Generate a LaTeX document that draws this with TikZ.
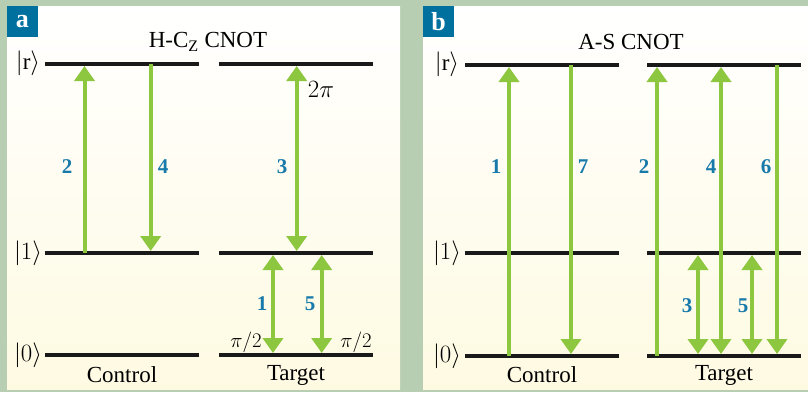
\documentclass[tikz,border=0pt]{standalone}
\usepackage{fontspec}
\setmainfont{Liberation Serif}
\usetikzlibrary{arrows.meta}
\definecolor{bggreen}{RGB}{184,206,178}
\definecolor{cream}{RGB}{254,250,226}
\definecolor{tagblue}{RGB}{0,112,158}
\definecolor{numblue}{RGB}{24,122,170}
\definecolor{lasergreen}{RGB}{141,198,63}
\begin{document}
\begin{tikzpicture}[x=1pt,y=-1pt,
  level/.style={line width=4pt,black!90},
  laser/.style={line width=4pt,lasergreen,-{Triangle[width=20pt,length=15pt]}},
  dlaser/.style={line width=4pt,lasergreen,{Triangle[width=20pt,length=15pt]}-{Triangle[width=20pt,length=15pt]}},
  num/.style={text=numblue,font=\fontsize{21}{21}\selectfont\bfseries,inner sep=0pt},
  ket/.style={font=\fontsize{23}{23}\selectfont,inner sep=0pt},
  ttl/.style={font=\fontsize{23}{23}\selectfont,inner sep=0pt},
  lbl/.style={font=\fontsize{23}{23}\selectfont,inner sep=0pt},
  ang/.style={font=\fontsize{21}{21}\selectfont,inner sep=0pt},
  tag/.style={fill=tagblue,text=white,font=\fontsize{26}{26}\selectfont\bfseries,minimum width=31pt,minimum height=31pt,inner sep=0pt}]
\useasboundingbox (0,0) rectangle (808,392);
% background
\fill[bggreen] (0,0) rectangle (808,392);
\shade[top color=white,bottom color=cream] (7,6) rectangle (400,389);
\shade[top color=white,bottom color=cream] (423,6) rectangle (808,389);
\node[tag] (taga) at (22.5,21.5) {a};
\node[tag] (tagb) at (438.5,21.5) {b};

% ---------- panel a ----------
\node[ttl] (ta) at (208,42) {H-C\textsubscript{Z} CNOT};
\draw[level] (45,64) -- (199,64);
\draw[level] (219,64) -- (373,64);
\draw[level] (45,253) -- (199,253);
\draw[level] (219,253) -- (373,253);
\draw[level] (45,355) -- (199,355);
\draw[level] (219,355) -- (373,355);
\node[ket] (ar) at (28,63) {$|\mathrm{r}\rangle$};
\node[ket] (a1) at (28,253) {$|1\rangle$};
\node[ket] (a0) at (28,355) {$|0\rangle$};

\coordinate (a2b) at (84.5,253);  \coordinate (a2t) at (84.5,66);
\coordinate (a4t) at (150.7,64);  \coordinate (a4b) at (150.7,251);
\coordinate (a3t) at (296.7,66);  \coordinate (a3b) at (296.7,251);
\coordinate (a1t) at (273,255);   \coordinate (a1b) at (273,353);
\coordinate (a5t) at (321.7,255); \coordinate (a5b) at (321.7,353);
\draw[laser] (a2b) -- (a2t);
\draw[laser] (a4t) -- (a4b);
\draw[dlaser] (a3t) -- (a3b);
\draw[dlaser] (a1t) -- (a1b);
\draw[dlaser] (a5t) -- (a5b);
\node[num] (n2a) at (67,167) {2};
\node[num] (n4a) at (163,167) {4};
\node[num] (n3a) at (282,167) {3};
\node[num] (n1a) at (262,304) {1};
\node[num] (n5a) at (310,304) {5};
\node[ang,font=\fontsize{25}{25}\selectfont] (tp) at (321,89) {$2\pi$};
\node[ang] (p1) at (246,342) {$\pi/2$};
\node[ang] (p2) at (356,342) {$\pi/2$};
\node[lbl] (ca) at (122,375) {Control};
\node[lbl] (tga) at (296,375) {Target};

% ---------- panel b ----------
\node[ttl] (tb) at (631,42) {A-S CNOT};
\draw[level] (465,65) -- (619,65);
\draw[level] (647,65) -- (801,65);
\draw[level] (465,253) -- (619,253);
\draw[level] (647,253) -- (801,253);
\draw[level] (465,356) -- (619,356);
\draw[level] (647,356) -- (801,356);
\node[ket] (br) at (447,64) {$|\mathrm{r}\rangle$};
\node[ket] (b1) at (447,253) {$|1\rangle$};
\node[ket] (b0) at (447,356) {$|0\rangle$};

\coordinate (b1b) at (509,356); \coordinate (b1t) at (509,67);
\coordinate (b7t) at (571,65);  \coordinate (b7b) at (571,354);
\coordinate (b2b) at (657,356); \coordinate (b2t) at (657,67);
\coordinate (b4t) at (721,67);  \coordinate (b4b) at (721,354);
\coordinate (b6t) at (777,65);  \coordinate (b6b) at (777,354);
\coordinate (b3t) at (698,255); \coordinate (b3b) at (698,354);
\coordinate (b5t) at (752,255); \coordinate (b5b) at (752,354);
\draw[laser] (b1b) -- (b1t);
\draw[laser] (b7t) -- (b7b);
\draw[laser] (b2b) -- (b2t);
\draw[dlaser] (b4t) -- (b4b);
\draw[laser] (b6t) -- (b6b);
\draw[dlaser] (b3t) -- (b3b);
\draw[dlaser] (b5t) -- (b5b);
\node[num] (n1b) at (496,167) {1};
\node[num] (n7b) at (583,167) {7};
\node[num] (n2b) at (644,167) {2};
\node[num] (n4b) at (711,167) {4};
\node[num] (n6b) at (766,167) {6};
\node[num] (n3b) at (687,306) {3};
\node[num] (n5b) at (743,306) {5};
\node[lbl] (cb) at (542,375) {Control};
\node[lbl] (tgb) at (724,375) {Target};
\end{tikzpicture}
\end{document}
